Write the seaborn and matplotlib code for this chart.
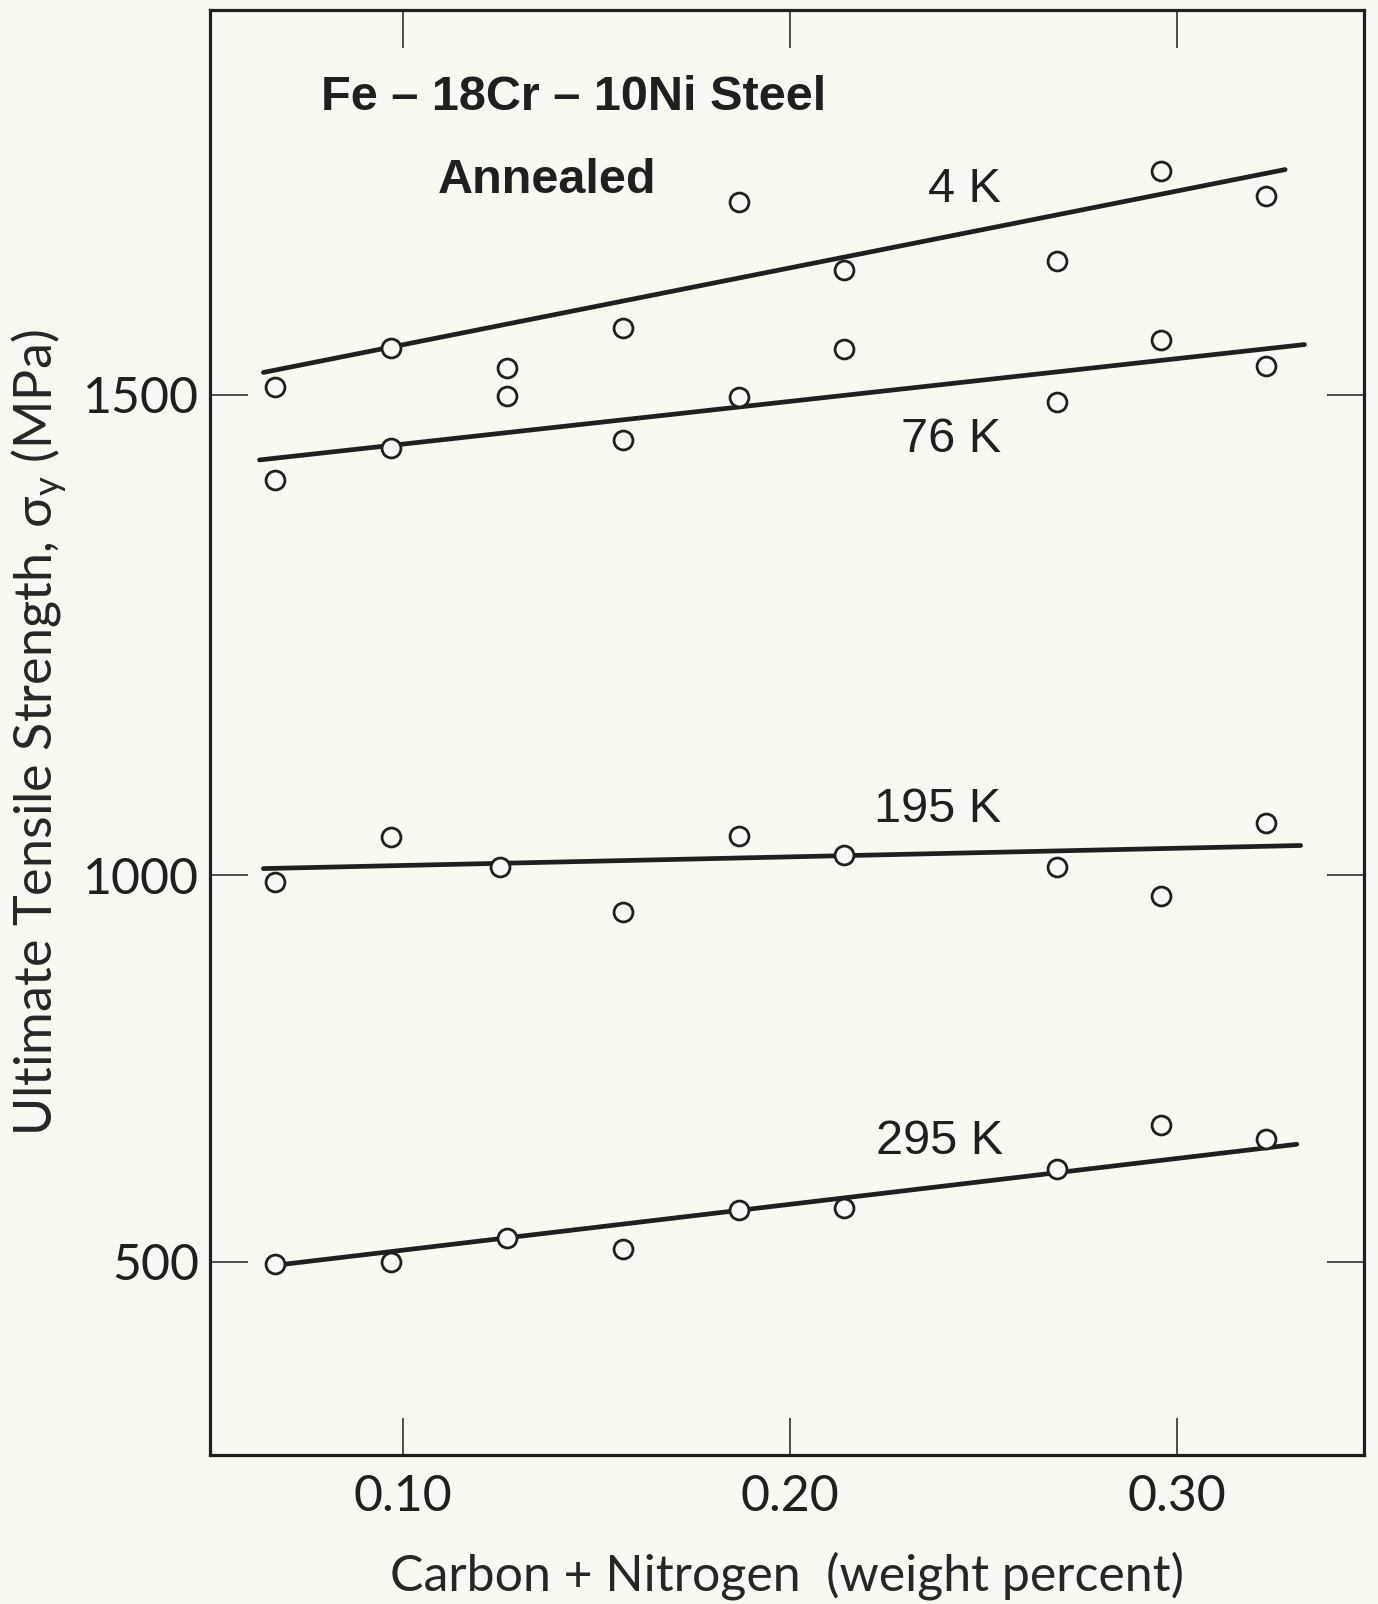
import numpy as np
import pandas as pd
import matplotlib
matplotlib.use("Agg")
import matplotlib.pyplot as plt
import seaborn as sns

# ---- measured values -------------------------------------------------------
carbon_nitrogen = [0.067, 0.097, 0.127, 0.157, 0.187, 0.214, 0.269, 0.296, 0.323]
carbon_nitrogen_195k = [0.067, 0.097, 0.125, 0.157, 0.187, 0.214, 0.269, 0.296, 0.323]

uts_4k = [1508, 1548, 1528, 1569, 1700, 1630, 1639, 1733, 1706]
uts_76k = [1411, 1444, 1498, 1453, 1497, 1547, 1492, 1557, 1530]
uts_195k = [991, 1040, 1009, 953, 1041, 1021, 1009, 973, 1054]
uts_295k = [497, 500, 531, 516, 567, 569, 620, 677, 659]

# straight-line fits (end points)
fit_x_4k, fit_4k = [0.064, 0.328], [1523, 1734]
fit_x_76k, fit_76k = [0.063, 0.333], [1432, 1552]
fit_x_195k, fit_195k = [0.064, 0.332], [1007, 1031]
fit_x_295k, fit_295k = [0.068, 0.331], [496, 652]

temperatures = ["4 K", "76 K", "195 K", "295 K"]
x_ticks = [0.10, 0.20, 0.30]
x_tick_labels = ["0.10", "0.20", "0.30"]
y_ticks = [500, 1000, 1500]
y_tick_labels = ["500", "1000", "1500"]

# ---- tables ----------------------------------------------------------------
points = pd.concat([
    pd.DataFrame({"cn": carbon_nitrogen, "uts": uts_4k, "T": "4 K"}),
    pd.DataFrame({"cn": carbon_nitrogen, "uts": uts_76k, "T": "76 K"}),
    pd.DataFrame({"cn": carbon_nitrogen_195k, "uts": uts_195k, "T": "195 K"}),
    pd.DataFrame({"cn": carbon_nitrogen, "uts": uts_295k, "T": "295 K"}),
], ignore_index=True)

fits = pd.concat([
    pd.DataFrame({"cn": fit_x_4k, "uts": fit_4k, "T": "4 K"}),
    pd.DataFrame({"cn": fit_x_76k, "uts": fit_76k, "T": "76 K"}),
    pd.DataFrame({"cn": fit_x_195k, "uts": fit_195k, "T": "195 K"}),
    pd.DataFrame({"cn": fit_x_295k, "uts": fit_295k, "T": "295 K"}),
], ignore_index=True)

# ---- style -----------------------------------------------------------------
BG = "#f9f9f1"
INK = "#1f1f1f"

sns.set_style("ticks")
plt.rcParams["font.family"] = ["Lato", "DejaVu Sans"]
plt.rcParams["axes.edgecolor"] = INK
plt.rcParams["text.color"] = INK

fig = plt.figure(figsize=(13.78, 16.04), dpi=100, facecolor=BG)
ax = fig.add_axes([0.1524, 0.0929, 0.8378, 0.9009])
ax.set_facecolor(BG)

# the printed stress axis is stretched above 1000 MPa
STRETCH = 1.244


def _fwd(v):
    v = np.asarray(v, dtype=float)
    return np.where(v <= 1000, (v - 500) / 500, 1 + (v - 1000) / 500 * STRETCH)


def _inv(u):
    u = np.asarray(u, dtype=float)
    return np.where(u <= 1, 500 + u * 500, 1000 + (u - 1) * 500 / STRETCH)


ax.set_yscale("function", functions=(_fwd, _inv))

sns.lineplot(data=fits, x="cn", y="uts", units="T", estimator=None,
             color=INK, linewidth=3.4, solid_capstyle="round",
             legend=False, ax=ax, zorder=2)
sns.scatterplot(data=points, x="cn", y="uts", marker="o", s=185,
                color=BG, edgecolor=INK, linewidth=2.0,
                legend=False, ax=ax, zorder=3)

ax.set_xlim(0.0502, 0.3485)
ax.set_ylim(250, 1900)

ax.set_xticks(x_ticks)
ax.set_xticklabels(x_tick_labels)
ax.set_yticks(y_ticks)
ax.set_yticklabels(y_tick_labels)
ax.minorticks_off()
ax.tick_params(axis="both", which="major", direction="in", length=27,
               width=1.1, color=INK, top=True, right=True,
               labelsize=36, labelcolor=INK)
ax.tick_params(axis="x", pad=14)
ax.tick_params(axis="y", pad=8)

for side in ["left", "right", "top", "bottom"]:
    ax.spines[side].set_visible(True)
    ax.spines[side].set_linewidth(2.3)
    ax.spines[side].set_color(INK)

ax.set_xlabel("Carbon + Nitrogen  (weight percent)", fontsize=36, labelpad=22)
ax.set_ylabel("Ultimate Tensile Strength, σ$_\\mathregular{y}$ (MPa)",
              fontsize=37.5, labelpad=10)

# series labels
label_font = dict(family=["Liberation Sans", "DejaVu Sans"], fontsize=35,
                  ha="right", va="baseline", color=INK)
ax.text(0.2545, 1700, temperatures[0], **label_font)
ax.text(0.2545, 1440, temperatures[1], **label_font)
ax.text(0.2545, 1055, temperatures[2], **label_font)
ax.text(0.2550, 639, temperatures[3], **label_font)

# alloy note
note_font = dict(family=["Liberation Sans", "DejaVu Sans"], fontsize=35,
                 fontweight="bold", ha="center", va="baseline",
                 transform=ax.transAxes, color=INK)
ax.text(0.3146, 0.9308, "Fe – 18Cr – 10Ni Steel", **note_font)
ax.text(0.2916, 0.8731, "Annealed", **note_font)

fig.savefig("out.png", dpi=100, facecolor=BG)
